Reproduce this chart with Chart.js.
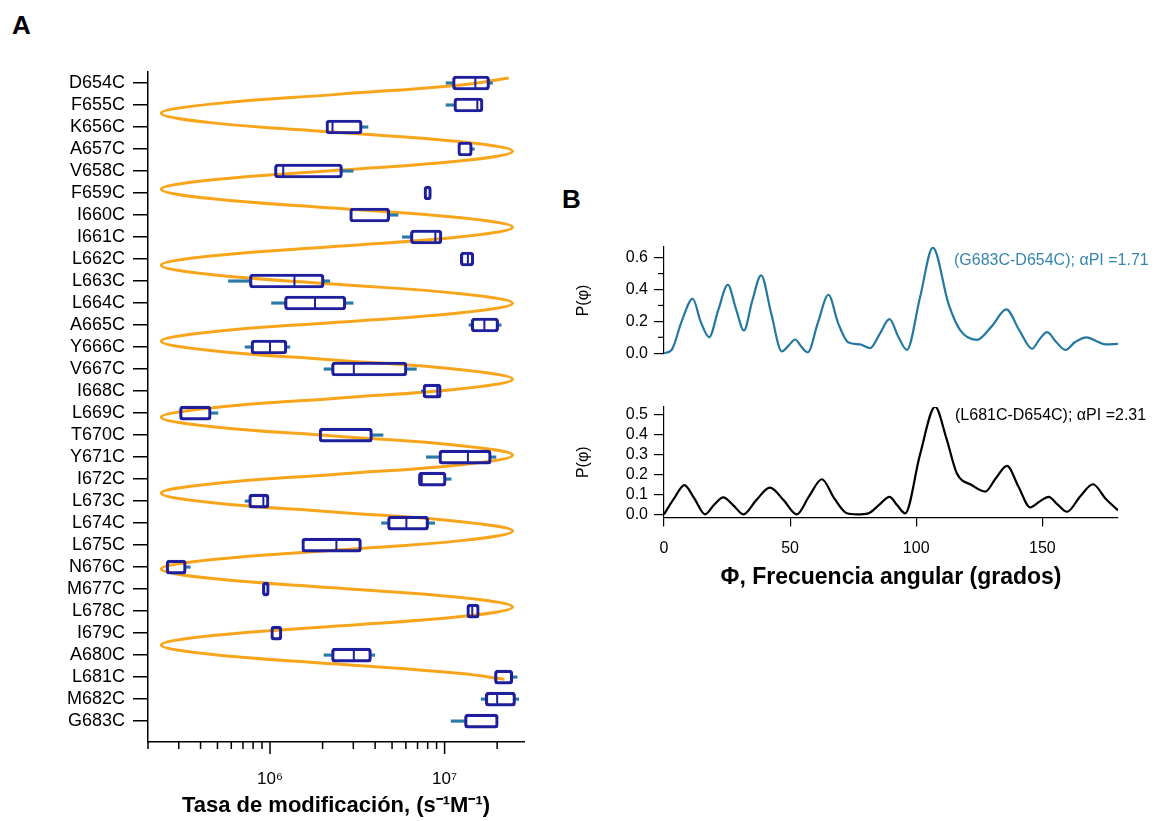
<!DOCTYPE html>
<html lang="es">
<head>
<meta charset="UTF-8">
<title>Tasa de modificación y frecuencia angular</title>
<script src="https://cdn.jsdelivr.net/npm/chart.js"></script>
<style>
    body { margin: 0; background: #fff; font-family: "Liberation Sans", Arial, sans-serif; }
    #wrap { position: relative; width: 1160px; height: 821px; overflow: hidden; }
    canvas { position: absolute; }
    .panel { position: absolute; font-weight: bold; font-size: 26px; line-height: 1; color: #000; }
</style>
</head>
<body>
<div id="wrap">
    <div class="panel" style="left:12px; top:12px;">A</div>
    <div class="panel" style="left:562px; top:186px;">B</div>
    <canvas id="chartA" style="left:0; top:0;" width="560" height="821"></canvas>
    <canvas id="chartB1" style="left:560px; top:230px;" width="600" height="140"></canvas>
    <canvas id="chartB2" style="left:560px; top:390px;" width="600" height="210"></canvas>
</div>

<script>
    // ---- panel A: modification rates per mutant ----
    const mutants = ['D654C', 'F655C', 'K656C', 'A657C', 'V658C', 'F659C', 'I660C', 'I661C', 'L662C', 'L663C',
        'L664C', 'A665C', 'Y666C', 'V667C', 'I668C', 'L669C', 'T670C', 'Y671C', 'I672C', 'L673C',
        'L674C', 'L675C', 'N676C', 'M677C', 'L678C', 'I679C', 'A680C', 'L681C', 'M682C', 'G683C'];

    const whiskerLow = [1.02e7, 1.02e7, null, null, null, null, null, 5.73e6, null, 5.78e5,
        1.02e6, 1.38e7, 7.2e5, 2.04e6, 7.36e6, null, null, 7.86e6, null, 7.2e5,
        4.35e6, null, null, null, null, null, 2.04e6, null, 1.62e7, 1.09e7];
    const q1 = [1.11e7, 1.13e7, 2.09e6, 1.19e7, 1.06e6, 7.62e6, 2.86e6, 6.37e6, 1.23e7, 7.62e5,
        1.21e6, 1.42e7, 7.78e5, 2.25e6, 7.52e6, 3.03e5, 1.91e6, 9.28e6, 7.08e6, 7.55e5,
        4.71e6, 1.52e6, 2.54e5, 9.04e5, 1.34e7, 1.01e6, 2.25e6, 1.93e7, 1.71e7, 1.30e7];
    const median = [1.50e7, 1.54e7, 2.28e6, null, 1.19e6, null, null, 8.85e6, 1.36e7, 1.38e6,
        1.81e6, 1.69e7, 1.0e6, 3.02e6, 9.08e6, null, null, 1.36e7, 7.4e6, 9.16e5,
        6.04e6, 2.40e6, null, null, 1.44e7, null, 3.02e6, null, 2.0e7, null];
    const q3 = [1.81e7, 1.66e7, 3.37e6, 1.44e7, 2.60e6, 8.4e6, 4.85e6, 9.66e6, 1.47e7, 2.04e6,
        2.72e6, 2.04e7, 1.25e6, 6.09e6, 9.57e6, 4.6e5, 3.86e6, 1.85e7, 1.02e7, 9.87e5,
        8.1e6, 3.34e6, 3.31e5, 9.9e5, 1.58e7, 1.17e6, 3.81e6, 2.46e7, 2.55e7, 2.03e7];
    const whiskerHigh = [1.88e7, null, 3.64e6, 1.48e7, 2.99e6, null, 5.41e6, null, null, 2.2e6,
        2.99e6, 2.11e7, 1.30e6, 6.89e6, null, 5.03e5, 4.44e6, 1.97e7, 1.09e7, null,
        8.77e6, null, 3.49e5, null, null, null, 3.98e6, 2.6e7, 2.66e7, null];

    // orange helical fit, read along the residue axis
    const fitIndex = [-0.23, 0.086, 0.517, 0.949, 1.380, 1.812, 2.243, 2.675, 3.106, 3.538,
        3.969, 4.401, 4.832, 5.264, 5.695, 6.127, 6.558, 6.990, 7.421, 7.853,
        8.284, 8.716, 9.147, 9.579, 10.010, 10.442, 10.873, 11.305, 11.736, 12.168,
        12.599, 13.031, 13.462, 13.894, 14.325, 14.757, 15.188, 15.620, 16.051, 16.483,
        16.914, 17.346, 17.777, 18.209, 18.640, 19.072, 19.503, 19.935, 20.366, 20.798,
        21.229, 21.661, 22.092, 22.524, 22.955, 23.387, 23.818, 24.250, 24.681, 25.113,
        25.544, 25.976, 26.407, 26.839, 27.1];
    const fitRate = [2.33e7, 1.245e7, 2.42e6, 4.70e5, 2.38e5, 4.70e5, 2.42e6, 1.245e7, 2.45e7, 1.245e7,
        2.42e6, 4.70e5, 2.38e5, 4.70e5, 2.42e6, 1.245e7, 2.45e7, 1.245e7, 2.42e6, 4.70e5,
        2.38e5, 4.70e5, 2.42e6, 1.245e7, 2.45e7, 1.245e7, 2.42e6, 4.70e5, 2.38e5, 4.70e5,
        2.42e6, 1.245e7, 2.45e7, 1.245e7, 2.42e6, 4.70e5, 2.38e5, 4.70e5, 2.42e6, 1.245e7,
        2.45e7, 1.245e7, 2.42e6, 4.70e5, 2.38e5, 4.70e5, 2.42e6, 1.245e7, 2.45e7, 1.245e7,
        2.42e6, 4.70e5, 2.38e5, 4.70e5, 2.42e6, 1.245e7, 2.45e7, 1.245e7, 2.42e6, 4.70e5,
        2.38e5, 4.70e5, 2.42e6, 1.245e7, 2.2e7];

    const rateTicks = [2e5, 3e5, 4e5, 5e5, 6e5, 7e5, 8e5, 9e5, 1e6, 2e6, 3e6, 4e6, 5e6, 6e6, 7e6, 8e6, 9e6, 1e7, 2e7];
    const rateMajor = [1e6, 1e7];

    // ---- panel B: power spectra ----
    const angleTop = [0, 3, 7, 11.4, 14.5, 17.9, 21.5, 25.3, 28.5, 31.7, 35, 38.5, 42.5, 46.7, 49.5, 52, 54.5, 57, 61, 65.2,
        69, 73, 77.8, 81.7, 85.5, 89.4, 93, 96.3, 101.5, 106.6, 112.8, 117.5, 124, 130, 135.7, 141, 145.9, 149, 151.9, 155.5,
        159.1, 163, 167.5, 171.5, 175, 180];
    const pTop = [0, 0.02, 0.2, 0.342, 0.2, 0.10, 0.27, 0.43, 0.28, 0.143, 0.33, 0.489, 0.25, 0.011, 0.05, 0.086, 0.04, 0.006, 0.19, 0.367,
        0.19, 0.069, 0.055, 0.031, 0.12, 0.214, 0.10, 0.021, 0.35, 0.663, 0.31, 0.143, 0.084, 0.17, 0.275, 0.14, 0.028, 0.09, 0.132, 0.07,
        0.021, 0.07, 0.10, 0.075, 0.055, 0.058];
    const angleBottom = [0, 4, 8.1, 12, 16.3, 20, 23.5, 27.5, 31.5, 36.5, 42, 47.5, 52.6, 57.5, 62.6, 67.5, 72.5, 76.5, 81, 85.5,
        89.4, 92.5, 95.6, 101.5, 107.5, 112, 116.1, 122, 127.4, 131.5, 136, 140.5, 145.2, 149, 152.5, 156, 159.8, 165, 170.1, 175, 180];
    const pBottom = [0, 0.08, 0.147, 0.08, 0, 0.05, 0.085, 0.045, 0, 0.07, 0.134, 0.07, 0, 0.09, 0.176, 0.08, 0.005, 0, 0.005, 0.05,
        0.088, 0.045, 0.005, 0.3, 0.541, 0.38, 0.206, 0.147, 0.114, 0.18, 0.243, 0.14, 0.035, 0.065, 0.088, 0.05, 0.013, 0.09, 0.151, 0.08, 0.02];

    const topTicks = [0, 0.2, 0.4, 0.6];
    const topMinor = [0.1, 0.3, 0.5];
    const bottomTicks = [0, 0.1, 0.2, 0.3, 0.4, 0.5];
    const angleTicks = [0, 50, 100, 150];

    Chart.defaults.font.family = '"Liberation Sans", Arial, Helvetica, sans-serif';
    Chart.defaults.color = '#000';

    const navy = '#1f1f9e';
    const teal = '#2a7aa6';

    // tick marks of different lengths (minor / major)
    const tickMarks = {
        id: 'tickMarks',
        afterDraw(chart, args, opts) {
            const ctx = chart.ctx;
            (opts.marks || []).forEach(m => {
                const s = chart.scales[m.axis];
                ctx.save();
                ctx.strokeStyle = '#000';
                ctx.lineWidth = m.width;
                m.values.forEach(v => {
                    const p = s.getPixelForValue(v);
                    const len = (m.major || []).includes(v) ? m.majorLen : m.minorLen;
                    ctx.beginPath();
                    if (s.isHorizontal()) {
                        ctx.moveTo(p, s.top);
                        ctx.lineTo(p, s.top + len);
                    } else {
                        ctx.moveTo(s.right, p);
                        ctx.lineTo(s.right - len, p);
                    }
                    ctx.stroke();
                });
                ctx.restore();
            });
        }
    };

    // free text label inside a panel
    const note = {
        id: 'note',
        afterDraw(chart, args, opts) {
            if (!opts.text) return;
            const ctx = chart.ctx;
            ctx.save();
            ctx.font = opts.font;
            ctx.fillStyle = opts.color;
            ctx.textBaseline = 'middle';
            ctx.fillText(opts.text, opts.x, opts.y);
            ctx.restore();
        }
    };

    new Chart(document.getElementById('chartA'), {
        type: 'bar',
        data: {
            datasets: [
                {
                    type: 'line',
                    data: fitIndex.map((y, i) => ({ x: fitRate[i], y: y })),
                    borderColor: '#f9a51c',
                    borderWidth: 3,
                    pointRadius: 0,
                    tension: 0.4,
                    order: 4
                },
                {
                    data: mutants.map((m, i) => ({ y: i, x: [whiskerLow[i], q1[i]] })).filter(d => d.x[0] !== null),
                    backgroundColor: teal,
                    barThickness: 2.5,
                    grouped: false,
                    order: 3
                },
                {
                    data: mutants.map((m, i) => ({ y: i, x: [q3[i], whiskerHigh[i]] })).filter(d => d.x[1] !== null),
                    backgroundColor: teal,
                    barThickness: 2.5,
                    grouped: false,
                    order: 3
                },
                {
                    data: mutants.map((m, i) => ({ y: i, x: [q1[i], q3[i]] })),
                    backgroundColor: 'rgba(255,255,255,0)',
                    borderColor: navy,
                    borderWidth: 2.5,
                    borderRadius: 3.5,
                    borderSkipped: false,
                    barThickness: 14,
                    grouped: false,
                    order: 2
                },
                {
                    type: 'line',
                    data: mutants.map((m, i) => ({ x: median[i], y: i })).filter(d => d.x !== null),
                    showLine: false,
                    pointStyle: 'line',
                    rotation: 90,
                    pointRadius: 6,
                    pointBorderColor: navy,
                    pointBorderWidth: 2,
                    order: 1
                }
            ]
        },
        options: {
            indexAxis: 'y',
            responsive: false,
            animation: false,
            layout: { padding: { top: 72, right: 36, left: 0, bottom: 0 } },
            plugins: {
                legend: { display: false },
                tooltip: { enabled: false },
                tickMarks: {
                    marks: [{ axis: 'x', values: rateTicks, major: rateMajor, majorLen: 12, minorLen: 7, width: 1.5 }]
                }
            },
            scales: {
                x: {
                    type: 'logarithmic',
                    min: 2e5,
                    max: 2.85e7,
                    afterBuildTicks: s => { s.ticks = rateTicks.map(v => ({ value: v })); },
                    afterFit: s => { s.height = 79; },
                    ticks: {
                        callback: v => v === 1e6 ? '10⁶' : (v === 1e7 ? '10⁷' : ''),
                        font: { size: 17 },
                        padding: 19,
                        maxRotation: 0,
                        autoSkip: false
                    },
                    grid: { display: false },
                    border: { display: true, color: '#000', width: 1.5 },
                    title: {
                        display: true,
                        text: 'Tasa de modificación, (s⁻¹M⁻¹)',
                        font: { size: 22, weight: 'bold' },
                        padding: { top: 4, bottom: 2 }
                    }
                },
                y: {
                    type: 'linear',
                    reverse: true,
                    offset: false,
                    min: -0.5,
                    max: 29.95,
                    afterBuildTicks: s => { s.ticks = mutants.map((m, i) => ({ value: i })); },
                    afterFit: s => { s.width = 148; },
                    ticks: {
                        callback: v => mutants[v],
                        font: { size: 18 },
                        padding: 8,
                        autoSkip: false
                    },
                    grid: { offset: false, drawOnChartArea: false, tickLength: 15, color: '#000', lineWidth: 1.5 },
                    border: { color: '#000', width: 1.5 }
                }
            }
        },
        plugins: [tickMarks]
    });

    new Chart(document.getElementById('chartB1'), {
        type: 'line',
        data: {
            datasets: [{
                data: angleTop.map((a, i) => ({ x: a, y: pTop[i] })),
                borderColor: '#23789f',
                borderWidth: 2.2,
                pointRadius: 0,
                cubicInterpolationMode: 'monotone'
            }]
        },
        options: {
            responsive: false,
            animation: false,
            layout: { padding: { left: 0, right: 42, top: 17, bottom: 16 } },
            plugins: {
                legend: { display: false },
                tooltip: { enabled: false },
                tickMarks: { marks: [{ axis: 'y', values: topMinor, major: [], majorLen: 10, minorLen: 6, width: 1.2 }] },
                note: { text: '(G683C-D654C); αPI =1.71', x: 394, y: 31, font: '16px "Liberation Sans", Arial, sans-serif', color: '#3585ad' }
            },
            scales: {
                x: { type: 'linear', min: 0, max: 180, display: false },
                y: {
                    min: -0.005,
                    max: 0.667,
                    afterBuildTicks: s => { s.ticks = topTicks.map(v => ({ value: v })); },
                    afterFit: s => { s.width = 104; },
                    ticks: { callback: v => v.toFixed(1), font: { size: 16 }, padding: 6, autoSkip: false },
                    grid: { drawOnChartArea: false, tickLength: 10, color: '#000', lineWidth: 1.2 },
                    border: { color: '#000', width: 1.2 },
                    title: { display: true, text: 'P(φ)', font: { size: 16 }, padding: { top: 14, bottom: 0 } }
                }
            }
        },
        plugins: [tickMarks, note]
    });

    new Chart(document.getElementById('chartB2'), {
        type: 'line',
        data: {
            datasets: [{
                data: angleBottom.map((a, i) => ({ x: a, y: pBottom[i] })),
                borderColor: '#000',
                borderWidth: 2.2,
                pointRadius: 0,
                cubicInterpolationMode: 'monotone'
            }]
        },
        options: {
            responsive: false,
            animation: false,
            layout: { padding: { left: 0, right: 42, top: 17, bottom: 0 } },
            plugins: {
                legend: { display: false },
                tooltip: { enabled: false },
                note: { text: '(L681C-D654C); αPI =2.31', x: 395, y: 26, font: '16px "Liberation Sans", Arial, sans-serif', color: '#000' }
            },
            scales: {
                x: {
                    type: 'linear',
                    min: 0,
                    max: 180,
                    afterBuildTicks: s => { s.ticks = angleTicks.map(v => ({ value: v })); },
                    afterFit: s => { s.height = 82.5; },
                    ticks: { font: { size: 16 }, padding: 12, maxRotation: 0, autoSkip: false },
                    grid: { drawOnChartArea: false, tickLength: 9, color: '#000', lineWidth: 1.2 },
                    border: { color: '#000', width: 1.2 },
                    title: {
                        display: true,
                        text: 'Φ, Frecuencia angular (grados)',
                        font: { size: 23, weight: 'bold' },
                        padding: { top: 4, bottom: 9 }
                    }
                },
                y: {
                    min: -0.016,
                    max: 0.539,
                    afterBuildTicks: s => { s.ticks = bottomTicks.map(v => ({ value: v })); },
                    afterFit: s => { s.width = 104; },
                    ticks: { callback: v => v.toFixed(1), font: { size: 16 }, padding: 6, autoSkip: false },
                    grid: { drawOnChartArea: false, tickLength: 10, color: '#000', lineWidth: 1.2 },
                    border: { color: '#000', width: 1.2 },
                    title: { display: true, text: 'P(φ)', font: { size: 16 }, padding: { top: 14, bottom: 0 } }
                }
            }
        },
        plugins: [note]
    });
</script>
</body>
</html>
